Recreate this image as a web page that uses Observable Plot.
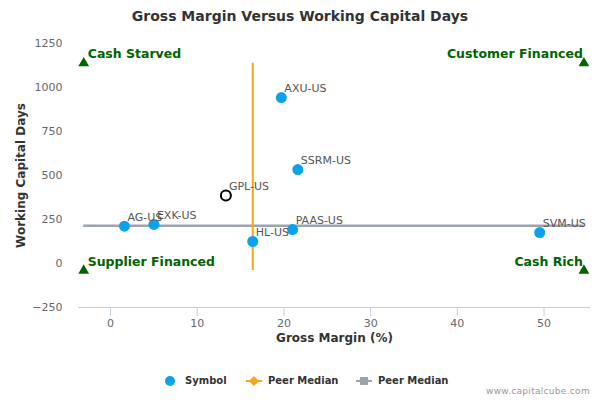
<!DOCTYPE html>
<html>
<head>
<meta charset="utf-8">
<script src="https://cdn.jsdelivr.net/npm/d3@7"></script>
<script src="https://cdn.jsdelivr.net/npm/@observablehq/plot@0.6"></script>
<style>
  html, body { margin: 0; padding: 0; background: #fff; }
  #wrap { position: relative; width: 600px; height: 400px; font-family: "DejaVu Sans", sans-serif; }
  #title { height: 32px; line-height: 32px; text-align: center; font-size: 14px; font-weight: bold; color: #333; }
  #chart svg { display: block; }
  #legend { position: absolute; top: 373px; left: 0; width: 600px; height: 16px; font-size: 10px; font-weight: bold; color: #333; }
  .li { position: absolute; top: 0; height: 16px; line-height: 16px; }
  #credit { position: absolute; right: 10px; top: 386px; font-size: 9px; color: #999; letter-spacing: 0.3px; }
</style>
</head>
<body>
<div id="wrap">
  <div id="title">Gross Margin Versus Working Capital Days</div>
  <div id="chart"></div>
  <div id="legend"></div>
  <div id="credit">www.capitalcube.com</div>
</div>
<script>
// ---- data ----
const symbols = ["AG-US", "EXK-US", "GPL-US", "HL-US", "AXU-US", "SSRM-US", "PAAS-US", "SVM-US"];
const grossMargin = [1.6, 5.0, 13.3, 16.4, 19.7, 21.6, 21.0, 49.5];
const workingCapitalDays = [212, 222, 386, 125, 943, 534, 193, 176];
const targetSymbol = "GPL-US";
const peerMedianGrossMargin = 16.4;
const peerMedianWorkingCapitalDays = 214;
const quadrantLabels = ["Cash Starved", "Customer Financed", "Supplier Financed", "Cash Rich"];
const quadrantX = [-3.1, 54.6, -3.1, 54.6];
const quadrantY = [1138, 1138, -40, -40];
const xTicks = [0, 10, 20, 30, 40, 50];
const yTicks = [-250, 0, 250, 500, 750, 1000, 1250];
const legendLabels = ["Symbol", "Peer Median", "Peer Median"];

// ---- styles ----
const blue = "#0ba2ec";
const orange = "#f8a51b";
const grayLine = "#9ca4ae";
const green = "#006400";

const points = symbols.map((s, i) => ({symbol: s, x: grossMargin[i], y: workingCapitalDays[i]}));
const peers = points.filter(d => d.symbol !== targetSymbol);
const target = points.filter(d => d.symbol === targetSymbol);
const quads = quadrantLabels.map((l, i) => ({label: l, x: quadrantX[i], y: quadrantY[i], right: i % 2 === 1}));
const qxMin = d3.min(quadrantX), qxMax = d3.max(quadrantX);
const qyMin = d3.min(quadrantY), qyMax = d3.max(quadrantY);

const plot = Plot.plot({
  width: 600,
  height: 330,
  marginTop: 11,
  marginBottom: 55,
  marginLeft: 78,
  marginRight: 10,
  style: {fontFamily: "DejaVu Sans, sans-serif", background: "#fff"},
  x: {domain: [-3.7, 55.36]},
  y: {domain: [d3.min(yTicks), d3.max(yTicks)]},
  marks: [
    Plot.axisY({ticks: yTicks, tickFormat: d3.format("d"), tickSize: 0, tickPadding: 16, label: null, fill: "#666", fontSize: 11}),
    Plot.axisX({ticks: xTicks, tickFormat: d3.format("d"), tickSize: 9, tickPadding: 3, label: null, stroke: "#c0d0e0", fill: "#666", fontSize: 11}),
    Plot.ruleY([d3.min(yTicks)], {stroke: "#c0d0e0", strokeWidth: 1}),
    Plot.text(["Gross Margin (%)"], {frameAnchor: "bottom", dy: 34, fontSize: 12, fontWeight: "bold", fill: "#333"}),
    Plot.text(["Working Capital Days"], {frameAnchor: "left", textAnchor: "middle", dx: -57, rotate: -90, fontSize: 12, fontWeight: "bold", fill: "#333"}),
    // peer median lines
    Plot.ruleY([peerMedianWorkingCapitalDays], {x1: qxMin, x2: qxMax, stroke: grayLine, strokeWidth: 2.5}),
    Plot.ruleX([peerMedianGrossMargin], {y1: qyMin, y2: qyMax, stroke: orange, strokeWidth: 2}),
    // quadrant markers
    Plot.dot(quads, {x: "x", y: "y", symbol: "triangle", r: 4, fill: green}),
    Plot.text(quads, {filter: d => !d.right, x: "x", y: "y", text: "label", textAnchor: "start", dx: 4, dy: -9, fill: green, fontSize: 12.5, fontWeight: "bold"}),
    Plot.text(quads, {filter: d => d.right, x: "x", y: "y", text: "label", textAnchor: "end", dx: -1, dy: -9, fill: green, fontSize: 12.5, fontWeight: "bold"}),
    // points
    Plot.dot(peers, {x: "x", y: "y", r: 5.5, fill: blue}),
    Plot.dot(target, {x: "x", y: "y", r: 5, fill: "none", stroke: "#000", strokeWidth: 2}),
    Plot.text(points, {x: "x", y: "y", text: "symbol", textAnchor: "start", dx: 3, dy: -9, fill: "#555", fontSize: 11})
  ]
});
document.getElementById("chart").appendChild(plot);

// ---- legend ----
const legend = d3.select("#legend");
const lx = [164, 246, 356];
const svgL = legend.append("svg").attr("width", 600).attr("height", 16).style("position", "absolute").style("left", 0).style("top", 0);
svgL.append("circle").attr("cx", lx[0] + 6).attr("cy", 8).attr("r", 5).attr("fill", blue);
svgL.append("line").attr("x1", lx[1]).attr("x2", lx[1] + 16).attr("y1", 8).attr("y2", 8).attr("stroke", orange).attr("stroke-width", 2);
svgL.append("path").attr("d", `M${lx[1] + 8},3L${lx[1] + 13},8L${lx[1] + 8},13L${lx[1] + 3},8Z`).attr("fill", orange);
svgL.append("line").attr("x1", lx[2]).attr("x2", lx[2] + 16).attr("y1", 8).attr("y2", 8).attr("stroke", grayLine).attr("stroke-width", 2);
svgL.append("rect").attr("x", lx[2] + 4).attr("y", 4).attr("width", 8).attr("height", 8).attr("fill", grayLine);
const tx = [185, 268, 378];
legendLabels.forEach((l, i) => {
  legend.append("div").attr("class", "li").style("left", tx[i] + "px").text(l);
});
</script>
</body>
</html>
